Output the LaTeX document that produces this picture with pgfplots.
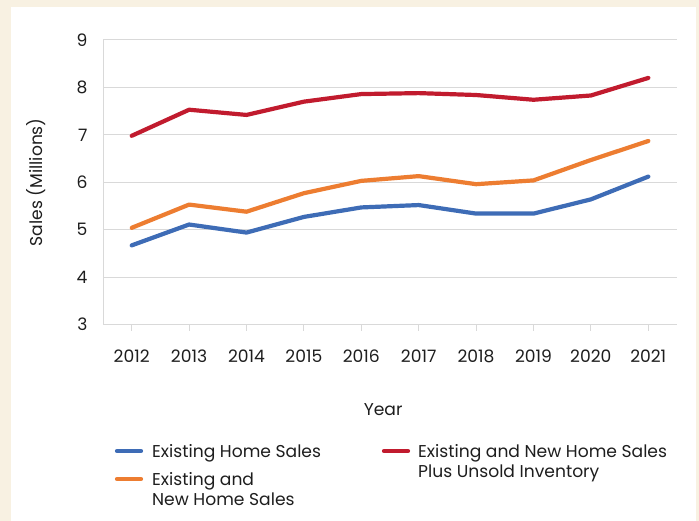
\documentclass[border=0pt]{standalone}
\usepackage{fontspec}
\setmainfont{Poppins}
\usepackage{pgfplots}
\pgfplotsset{compat=1.18}
\definecolor{cream}{RGB}{248,241,226}
\definecolor{gridgray}{RGB}{217,217,217}
\definecolor{sblue}{RGB}{62,108,182}
\definecolor{sorange}{RGB}{237,125,49}
\definecolor{sred}{RGB}{193,27,46}
\definecolor{txt}{RGB}{30,30,30}
\begin{document}
\begin{tikzpicture}[x=1bp,y=1bp,font=\fontsize{17.2}{20}\selectfont]
\fill[cream] (0,0) rectangle (699,521);
\fill[white] (11,0) rectangle (696,514);
\useasboundingbox (0,0) rectangle (699,521);
\begin{axis}[
  at={(103bp,196.4bp)}, anchor=south west,
  scale only axis, width=574bp, height=284.6bp,
  xmin=2011.5, xmax=2021.5, ymin=3, ymax=9,
  xtick={2012,...,2021}, ytick={3,...,9},
  axis x line*=bottom, axis y line*=left,
  axis line style={draw=gridgray, line width=1bp},
  ymajorgrids, grid style={draw=gridgray, line width=1bp},
  tick align=outside, major tick length=6bp,
  xtick style={draw=gridgray, line width=1bp},
  ytick style={draw=none},
  /pgf/number format/1000 sep={},
  /pgf/number format/assume math mode=true,
  ticklabel style={text=txt},
  xticklabel style={yshift=-16bp},
  yticklabel style={xshift=-6bp},
  xlabel={Year}, ylabel={Sales (Millions)},
  xlabel style={at={(axis description cs:0.488,-0.300)}, anchor=center, text=txt},
  ylabel style={at={(axis description cs:-0.1167,0.5)}, anchor=center, text=txt},
  every axis plot/.append style={line width=4.2bp, line join=round, line cap=round, no marks},
]
\addplot[sred] coordinates {(2012,6.98) (2013,7.53) (2014,7.42) (2015,7.70) (2016,7.86) (2017,7.88) (2018,7.84) (2019,7.74) (2020,7.83) (2021,8.20)};
\addplot[sorange] coordinates {(2012,5.04) (2013,5.53) (2014,5.38) (2015,5.77) (2016,6.03) (2017,6.13) (2018,5.96) (2019,6.04) (2020,6.47) (2021,6.87)};
\addplot[sblue] coordinates {(2012,4.67) (2013,5.11) (2014,4.94) (2015,5.27) (2016,5.47) (2017,5.52) (2018,5.34) (2019,5.34) (2020,5.64) (2021,6.12)};
\end{axis}
% legend
\draw[sblue, line width=4.2bp, line cap=round] (117,70) -- (141,70);
\node[anchor=base west, inner sep=0, text=txt] at (152,63.7) {Existing Home Sales};
\draw[sorange, line width=4.2bp, line cap=round] (117,42) -- (141,42);
\node[anchor=base west, inner sep=0, text=txt] at (152,35.3) {Existing and};
\node[anchor=base west, inner sep=0, text=txt] at (152,15) {New Home Sales};
\draw[sred, line width=4.2bp, line cap=round] (384,70) -- (408,70);
\node[anchor=base west, inner sep=0, text=txt] at (418,63.7) {Existing and New Home Sales};
\node[anchor=base west, inner sep=0, text=txt] at (418,43.7) {Plus Unsold Inventory};
\end{tikzpicture}
\end{document}
